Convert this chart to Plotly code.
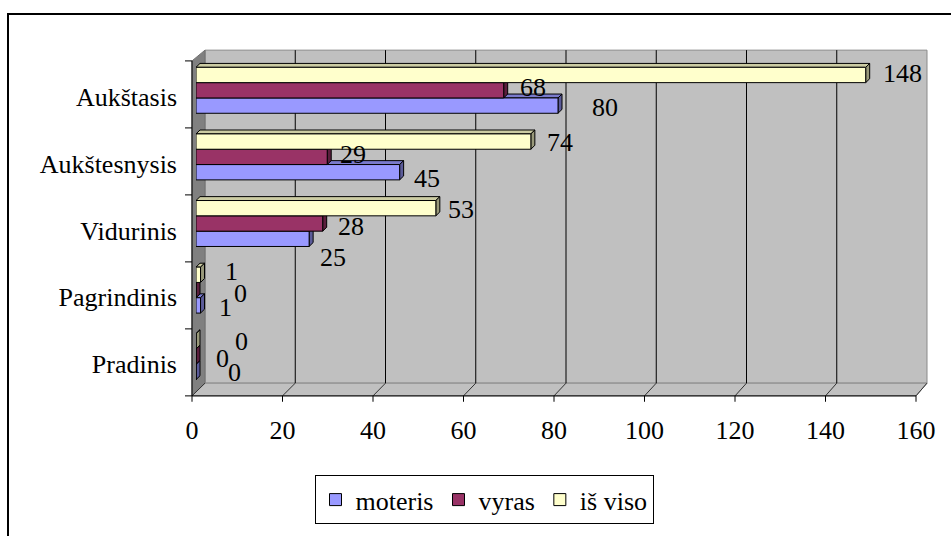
import plotly.graph_objects as go

# ---- data ----
categories = ["Pradinis", "Pagrindinis", "Vidurinis", "Aukštesnysis", "Aukštasis"]
moteris = [0, 1, 25, 45, 80]
vyras = [0, 0, 28, 29, 68]
is_viso = [0, 1, 53, 74, 148]
x_ticks = [0, 20, 40, 60, 80, 100, 120, 140, 160]

series = [
    ("moteris", moteris, "#9999FF"),
    ("vyras", vyras, "#993366"),
    ("iš viso", is_viso, "#FFFFCC"),
]

# pixel offsets of the value labels (dx right, dy down) from each bar end
label_shift = {
    "moteris": [(30, 0), (16, 2), (9, 19), (12, 6), (32, 2)],
    "vyras": [(18, 2), (36, 3), (13, 3), (11, -2), (14, -3)],
    "iš viso": [(37, 0), (22, -3), (10, 1), (14, 1), (15, -1)],
}

# ---- geometry ----
W, H = 951, 536
ML, MR, MT, MB = 196, 31, 57, 139
PW, PH = W - ML - MR, H - MT - MB
XMAX = 160
BAR_W = 0.23
FONT = "'Liberation Serif', 'Times New Roman', Times, serif"

# front and back planes of the 3-D frame (pixels)
FX0, FX1, FY0, FY1 = 192, 916, 61, 403
BX0, BX1, BY0, BY1 = 205, 927, 50, 390
DEPTH_PX = 4  # visible depth of each bar


def px(x):
    return (x - ML) / PW


def py(y):
    return 1 - (y - MT) / PH


def fx(v):
    return FX0 + v / XMAX * (FX1 - FX0)


def bx(v):
    return BX0 + v / XMAX * (BX1 - BX0)


def darken(hex_color, f):
    h = hex_color.lstrip("#")
    r, g, b = (int(h[i:i + 2], 16) for i in (0, 2, 4))
    return "rgb(%d,%d,%d)" % (r * f, g * f, b * f)


def poly(points):
    return "M " + " L ".join("%f,%f" % p for p in points) + " Z"


shapes = []
line_k = dict(color="black", width=1)
# back wall
shapes.append(dict(type="path", xref="paper", yref="paper", layer="below",
                   path=poly([(px(BX0), py(BY0)), (px(BX1), py(BY0)),
                              (px(BX1), py(BY1)), (px(BX0), py(BY1))]),
                   fillcolor="#C0C0C0", line=dict(color="#8A8A8A", width=1)))
# left wall
shapes.append(dict(type="path", xref="paper", yref="paper", layer="below",
                   path=poly([(px(FX0), py(FY0)), (px(BX0), py(BY0)),
                              (px(BX0), py(BY1)), (px(FX0), py(FY1))]),
                   fillcolor="#808080", line=dict(color="#707070", width=1)))
# floor
shapes.append(dict(type="path", xref="paper", yref="paper", layer="below",
                   path=poly([(px(FX0), py(FY1)), (px(BX0), py(BY1)),
                              (px(BX1), py(BY1)), (px(FX1), py(FY1))]),
                   fillcolor="#C0C0C0", line=dict(color="#8A8A8A", width=1)))
# grid lines on back wall + diagonals on floor + tick marks
for v in x_ticks:
    if 0 < v < XMAX:
        shapes.append(dict(type="line", xref="paper", yref="paper", layer="below",
                           x0=px(bx(v)), x1=px(bx(v)), y0=py(BY0), y1=py(BY1),
                           line=line_k))
    shapes.append(dict(type="line", xref="paper", yref="paper", layer="below",
                       x0=px(fx(v)), x1=px(bx(v)), y0=py(FY1), y1=py(BY1),
                       line=dict(color="#333333", width=1)))
    shapes.append(dict(type="line", xref="paper", yref="paper", layer="below",
                       x0=px(fx(v)), x1=px(fx(v)), y0=py(FY1), y1=py(FY1 + 6),
                       line=line_k))
# axis lines
shapes.append(dict(type="line", xref="paper", yref="paper", layer="below",
                   x0=px(FX0), x1=px(FX1), y0=py(FY1), y1=py(FY1), line=line_k))
shapes.append(dict(type="line", xref="paper", yref="paper", layer="below",
                   x0=px(FX0), x1=px(FX0), y0=py(FY0), y1=py(FY1), line=line_k))
n_cat = len(categories)
for k in range(n_cat + 1):
    yk = FY0 + k * (FY1 - FY0) / n_cat
    shapes.append(dict(type="line", xref="paper", yref="paper", layer="below",
                       x0=px(FX0 - 7), x1=px(FX0), y0=py(yk), y1=py(yk), line=line_k))

# 3-D side and top faces of the bars
dxu = DEPTH_PX / (PW / XMAX)
dyu = DEPTH_PX / (PH / n_cat)
h = BAR_W / 2
for si, (name, vals, col) in enumerate(series):
    off = (si - 1) * BAR_W
    for ci, v in enumerate(vals):
        c = ci + off
        shapes.append(dict(type="path", xref="x", yref="y", layer="below",
                           path=poly([(0, c + h), (dxu, c + h + dyu),
                                      (v + dxu, c + h + dyu), (v, c + h)]),
                           fillcolor=darken(col, 0.8), line=dict(color="black", width=1)))
        shapes.append(dict(type="path", xref="x", yref="y", layer="below",
                           path=poly([(v, c - h), (v + dxu, c - h + dyu),
                                      (v + dxu, c + h + dyu), (v, c + h)]),
                           fillcolor=darken(col, 0.6), line=dict(color="black", width=1)))

# outer chart border: only the top and left edges fall inside the page
shapes.append(dict(type="line", xref="paper", yref="paper", layer="below",
                   x0=px(7), x1=px(W + 20), y0=py(13), y1=py(13),
                   line=dict(color="black", width=2)))
shapes.append(dict(type="line", xref="paper", yref="paper", layer="below",
                   x0=px(8), x1=px(8), y0=py(12), y1=py(H + 20),
                   line=dict(color="black", width=2)))

fig = go.Figure()
annotations = []
for si, (name, vals, col) in enumerate(series):
    off = (si - 1) * BAR_W
    ypos = [i + off for i in range(n_cat)]
    fig.add_trace(go.Bar(
        name=name, x=vals, y=list(range(n_cat)), orientation="h",
        marker=dict(color=col, line=dict(color="black", width=1)),
    ))
    for ci, v in enumerate(vals):
        dx, dy = label_shift[name][ci]
        annotations.append(dict(x=v, y=ypos[ci], xref="x", yref="y", text=str(v),
                                showarrow=False, xanchor="left", yanchor="middle",
                                xshift=dx, yshift=-dy,
                                font=dict(family=FONT, size=26, color="black")))

fig.update_layout(
    width=W, height=H,
    margin=dict(l=ML, r=MR, t=MT, b=MB, pad=0),
    barmode="group", bargap=1 - 3 * BAR_W, bargroupgap=0,
    paper_bgcolor="white", plot_bgcolor="rgba(0,0,0,0)",
    font=dict(family=FONT, size=26, color="black"),
    shapes=shapes, annotations=annotations,
    showlegend=True,
    legend=dict(orientation="h", x=px(484), y=py(509), xanchor="center", yanchor="middle",
                bordercolor="black", borderwidth=1, bgcolor="white",
                font=dict(family=FONT, size=26), traceorder="normal",
                itemwidth=30, tracegroupgap=0),
)
fig.update_xaxes(range=[0, XMAX], tickvals=x_ticks, ticktext=[str(t) for t in x_ticks],
                 showgrid=False, zeroline=False, showline=False, ticks="",
                 ticklabelstandoff=22, ticklabelshift=-4)
fig.update_yaxes(range=[-0.5, n_cat - 0.5], tickvals=list(range(n_cat)), ticktext=categories,
                 showgrid=False, zeroline=False, showline=False, ticks="",
                 ticklabelstandoff=18, ticklabelshift=7)

fig.write_html("out.html")
